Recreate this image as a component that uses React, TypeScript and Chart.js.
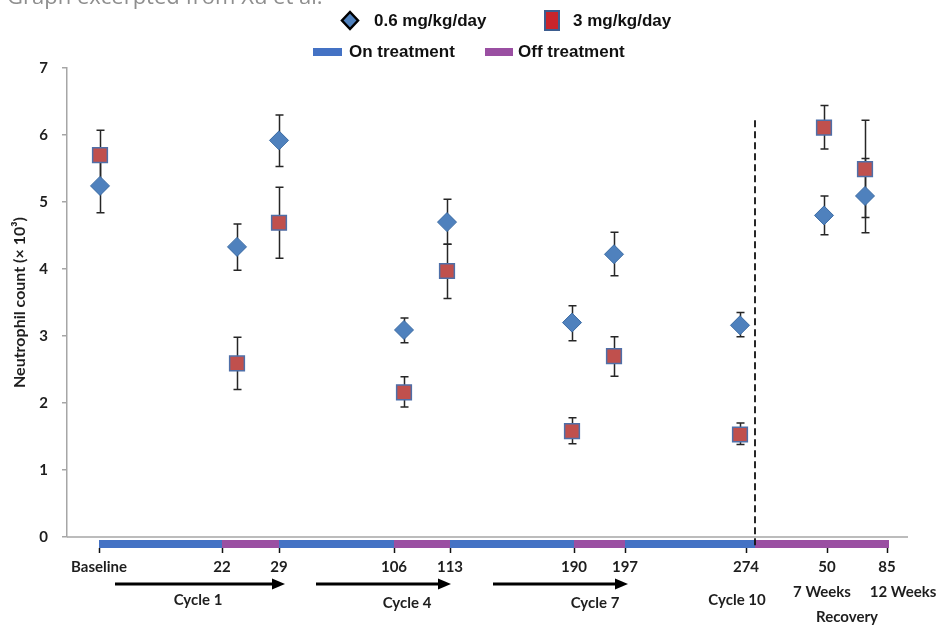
import React, { useEffect, useRef } from 'react';
import { Chart, registerables } from 'chart.js';

Chart.register(...registerables);

// ---- Data ----
const timepointLabels = ['Baseline', '22', '29', '106', '113', '190', '197', '274', '50', '85'];
// positions along the (non-linear) time axis, in axis units
const tickAxisPos = [32, 155, 212, 327, 383, 507, 558, 679, 760, 820];
const pointAxisPos = [33, 170, 212, 337, 380, 505, 547, 673, 757, 798];

const lowDoseMean = [5.24, 4.33, 5.92, 3.09, 4.7, 3.2, 4.22, 3.16, 4.8, 5.09];
const lowDoseUpper = [5.68, 4.67, 6.3, 3.27, 5.04, 3.45, 4.55, 3.35, 5.09, 5.65];
const lowDoseLower = [4.84, 3.98, 5.53, 2.9, 4.37, 2.93, 3.9, 2.99, 4.51, 4.54];

const highDoseMean = [5.7, 2.59, 4.69, 2.16, 3.97, 1.58, 2.7, 1.53, 6.11, 5.49];
const highDoseUpper = [6.07, 2.98, 5.22, 2.39, 4.37, 1.78, 2.99, 1.7, 6.44, 6.22];
const highDoseLower = [5.3, 2.2, 4.16, 1.94, 3.56, 1.39, 2.4, 1.38, 5.79, 4.77];

const phaseStart = [32, 155, 212, 327, 383, 507, 558, 688];
const phaseEnd = [155, 212, 327, 383, 507, 558, 688, 822];
const phaseType = ['on', 'off', 'on', 'off', 'on', 'off', 'on', 'off'];

const recoveryDividerPos = 688;
const recoveryDividerTop = 6.22;

const cycleArrowStart = [48, 249, 426];
const cycleArrowEnd = [218, 384, 561];
const cycleLabels = ['Cycle 1', 'Cycle 4', 'Cycle 7', 'Cycle 10'];
const cycleLabelPos = [131, 340, 528, 670];
const recoveryWeekLabels = ['7 Weeks', '12 Weeks'];
const recoveryWeekPos = [755, 836];
const recoveryLabel = 'Recovery';
const recoveryLabelPos = 780;

const xAxisMin = 0;
const xAxisMax = 841;

const seriesNames = ['0.6 mg/kg/day', '3 mg/kg/day'];
const phaseNames = ['On treatment', 'Off treatment'];
const titleText = 'Graph excerpted from Xu et al.';

// ---- Styles ----
const BLUE_MARK = '#4f81bd';
const RED_MARK = '#c0504d';
const ON_COLOR = '#4472c4';
const OFF_COLOR = '#9a4fa2';
const LABEL_FONT = 'bold 15px Lato';
const LEGEND_FONT = 'bold 17px "Liberation Sans"';

const customPlugin = {
  id: 'customDecor',
  beforeDatasetsDraw(chart: any) {
    const { ctx } = chart;
    const xs = chart.scales.x;
    const ys = chart.scales.y;
    ctx.save();
    ctx.strokeStyle = '#262626';
    ctx.lineWidth = 1.5;
    const drawBars = (lower: number[], upper: number[]) => {
      pointAxisPos.forEach((p, i) => {
        const x = Math.round(xs.getPixelForValue(p)) + 0.5;
        const yt = ys.getPixelForValue(upper[i]);
        const yb = ys.getPixelForValue(lower[i]);
        ctx.beginPath();
        ctx.moveTo(x, yt);
        ctx.lineTo(x, yb);
        ctx.moveTo(x - 4, yt);
        ctx.lineTo(x + 4, yt);
        ctx.moveTo(x - 4, yb);
        ctx.lineTo(x + 4, yb);
        ctx.stroke();
      });
    };
    drawBars(lowDoseLower, lowDoseUpper);
    drawBars(highDoseLower, highDoseUpper);
    ctx.restore();
  },
  afterDraw(chart: any) {
    const { ctx, chartArea } = chart;
    const xs = chart.scales.x;
    const ys = chart.scales.y;
    const bottom = chartArea.bottom;
    ctx.save();

    // title (cropped at top)
    ctx.font = '22px "Open Sans"';
    ctx.fillStyle = '#8e8e8e';
    ctx.textAlign = 'left';
    ctx.textBaseline = 'alphabetic';
    ctx.fillText(titleText, 7, 4);

    // x axis line
    ctx.strokeStyle = '#a6a6a6';
    ctx.lineWidth = 1.5;
    ctx.beginPath();
    ctx.moveTo(chartArea.left, bottom);
    ctx.lineTo(chartArea.right, bottom);
    ctx.stroke();

    // phase bar
    phaseStart.forEach((s, i) => {
      const x0 = xs.getPixelForValue(s);
      const x1 = xs.getPixelForValue(phaseEnd[i]);
      ctx.fillStyle = phaseType[i] === 'on' ? ON_COLOR : OFF_COLOR;
      ctx.fillRect(x0, bottom + 3, x1 - x0, 8);
    });

    // tick marks
    ctx.strokeStyle = '#111';
    ctx.lineWidth = 1.5;
    tickAxisPos.forEach((p) => {
      const x = Math.round(xs.getPixelForValue(p)) + 0.5;
      ctx.beginPath();
      ctx.moveTo(x, bottom + 11);
      ctx.lineTo(x, bottom + 16);
      ctx.stroke();
    });

    // dashed divider
    ctx.setLineDash([7, 4]);
    ctx.lineWidth = 1.8;
    const dx = xs.getPixelForValue(recoveryDividerPos);
    ctx.beginPath();
    ctx.moveTo(dx, ys.getPixelForValue(recoveryDividerTop));
    ctx.lineTo(dx, bottom + 11);
    ctx.stroke();
    ctx.setLineDash([]);

    // tick labels
    ctx.font = LABEL_FONT;
    ctx.fillStyle = '#1e1e1e';
    ctx.textAlign = 'center';
    ctx.textBaseline = 'middle';
    timepointLabels.forEach((l, i) => {
      ctx.fillText(l, xs.getPixelForValue(tickAxisPos[i]), bottom + 30);
    });

    // cycle arrows
    ctx.strokeStyle = '#000';
    ctx.fillStyle = '#000';
    ctx.lineWidth = 3;
    cycleArrowStart.forEach((s, i) => {
      const x0 = xs.getPixelForValue(s);
      const x1 = xs.getPixelForValue(cycleArrowEnd[i]);
      const y = bottom + 47;
      ctx.beginPath();
      ctx.moveTo(x0, y);
      ctx.lineTo(x1 - 10, y);
      ctx.stroke();
      ctx.beginPath();
      ctx.moveTo(x1, y);
      ctx.lineTo(x1 - 13, y - 5.5);
      ctx.lineTo(x1 - 13, y + 5.5);
      ctx.closePath();
      ctx.fill();
    });

    // cycle labels
    ctx.fillStyle = '#1e1e1e';
    cycleLabels.forEach((l, i) => {
      const y = i === 0 || i === 3 ? bottom + 63 : bottom + 66;
      ctx.fillText(l, xs.getPixelForValue(cycleLabelPos[i]), y);
    });
    recoveryWeekLabels.forEach((l, i) => {
      ctx.fillText(l, xs.getPixelForValue(recoveryWeekPos[i]), bottom + 55);
    });
    ctx.fillText(recoveryLabel, xs.getPixelForValue(recoveryLabelPos), bottom + 80);

    // legend row 1
    ctx.font = LEGEND_FONT;
    ctx.textAlign = 'left';
    ctx.fillStyle = '#111';
    // diamond
    ctx.beginPath();
    ctx.moveTo(350, 12);
    ctx.lineTo(358, 20.5);
    ctx.lineTo(350, 29);
    ctx.lineTo(342, 20.5);
    ctx.closePath();
    ctx.fillStyle = BLUE_MARK;
    ctx.fill();
    ctx.strokeStyle = '#000';
    ctx.lineWidth = 2.5;
    ctx.stroke();
    ctx.fillStyle = '#111';
    ctx.fillText(seriesNames[0], 374, 21);
    // square
    ctx.fillStyle = '#c9252c';
    ctx.fillRect(545, 11, 14, 19);
    ctx.strokeStyle = '#3d5d8f';
    ctx.lineWidth = 2;
    ctx.strokeRect(545, 11, 14, 19);
    ctx.fillStyle = '#111';
    ctx.fillText(seriesNames[1], 573, 21);
    // legend row 2
    ctx.fillStyle = ON_COLOR;
    ctx.fillRect(313, 48, 29, 8);
    ctx.fillStyle = '#111';
    ctx.fillText(phaseNames[0], 349, 52);
    ctx.fillStyle = OFF_COLOR;
    ctx.fillRect(485, 48, 28, 8);
    ctx.fillStyle = '#111';
    ctx.fillText(phaseNames[1], 518, 52);

    ctx.restore();
  },
};

export default function App() {
  const canvasRef = useRef<HTMLCanvasElement | null>(null);

  useEffect(() => {
    if (!canvasRef.current) return;
    const chart = new Chart(canvasRef.current, {
      type: 'scatter',
      data: {
        datasets: [
          {
            label: seriesNames[0],
            data: pointAxisPos.map((x, i) => ({ x, y: lowDoseMean[i] })),
            pointStyle: 'rectRot',
            pointRadius: 9.5,
            backgroundColor: BLUE_MARK,
            borderColor: '#3a6aa3',
            borderWidth: 1,
          },
          {
            label: seriesNames[1],
            data: pointAxisPos.map((x, i) => ({ x, y: highDoseMean[i] })),
            pointStyle: 'rect',
            pointRadius: 10.4,
            backgroundColor: RED_MARK,
            borderColor: '#4f6fa8',
            borderWidth: 1.5,
          },
        ],
      },
      options: {
        responsive: false,
        animation: false,
        events: [],
        layout: { padding: { top: 68, right: 32, bottom: 88, left: 0 } },
        plugins: {
          legend: { display: false },
          tooltip: { enabled: false },
        },
        scales: {
          x: { type: 'linear', min: xAxisMin, max: xAxisMax, display: false },
          y: {
            min: 0,
            max: 7,
            ticks: {
              stepSize: 1,
              padding: 14,
              color: '#1e1e1e',
              font: { family: 'Lato', weight: 'bold', size: 15 },
            },
            grid: { drawOnChartArea: false, tickLength: 5, color: '#a6a6a6', lineWidth: 1.5 },
            border: { color: '#a6a6a6', width: 1.5 },
            title: {
              display: true,
              text: 'Neutrophil count (× 10³)',
              color: '#1e1e1e',
              padding: { top: 10, bottom: 0 },
              font: { family: 'Lato', weight: 'bold', size: 16 },
            },
            afterFit: (scale: any) => {
              scale.width = 67;
            },
          },
        },
      },
      plugins: [customPlugin],
    });
    return () => chart.destroy();
  }, []);

  return (
    <div style={{ position: 'fixed', left: 0, top: 0, width: 940, height: 625, background: '#fff' }}>
      <canvas ref={canvasRef} width={940} height={625} />
    </div>
  );
}
